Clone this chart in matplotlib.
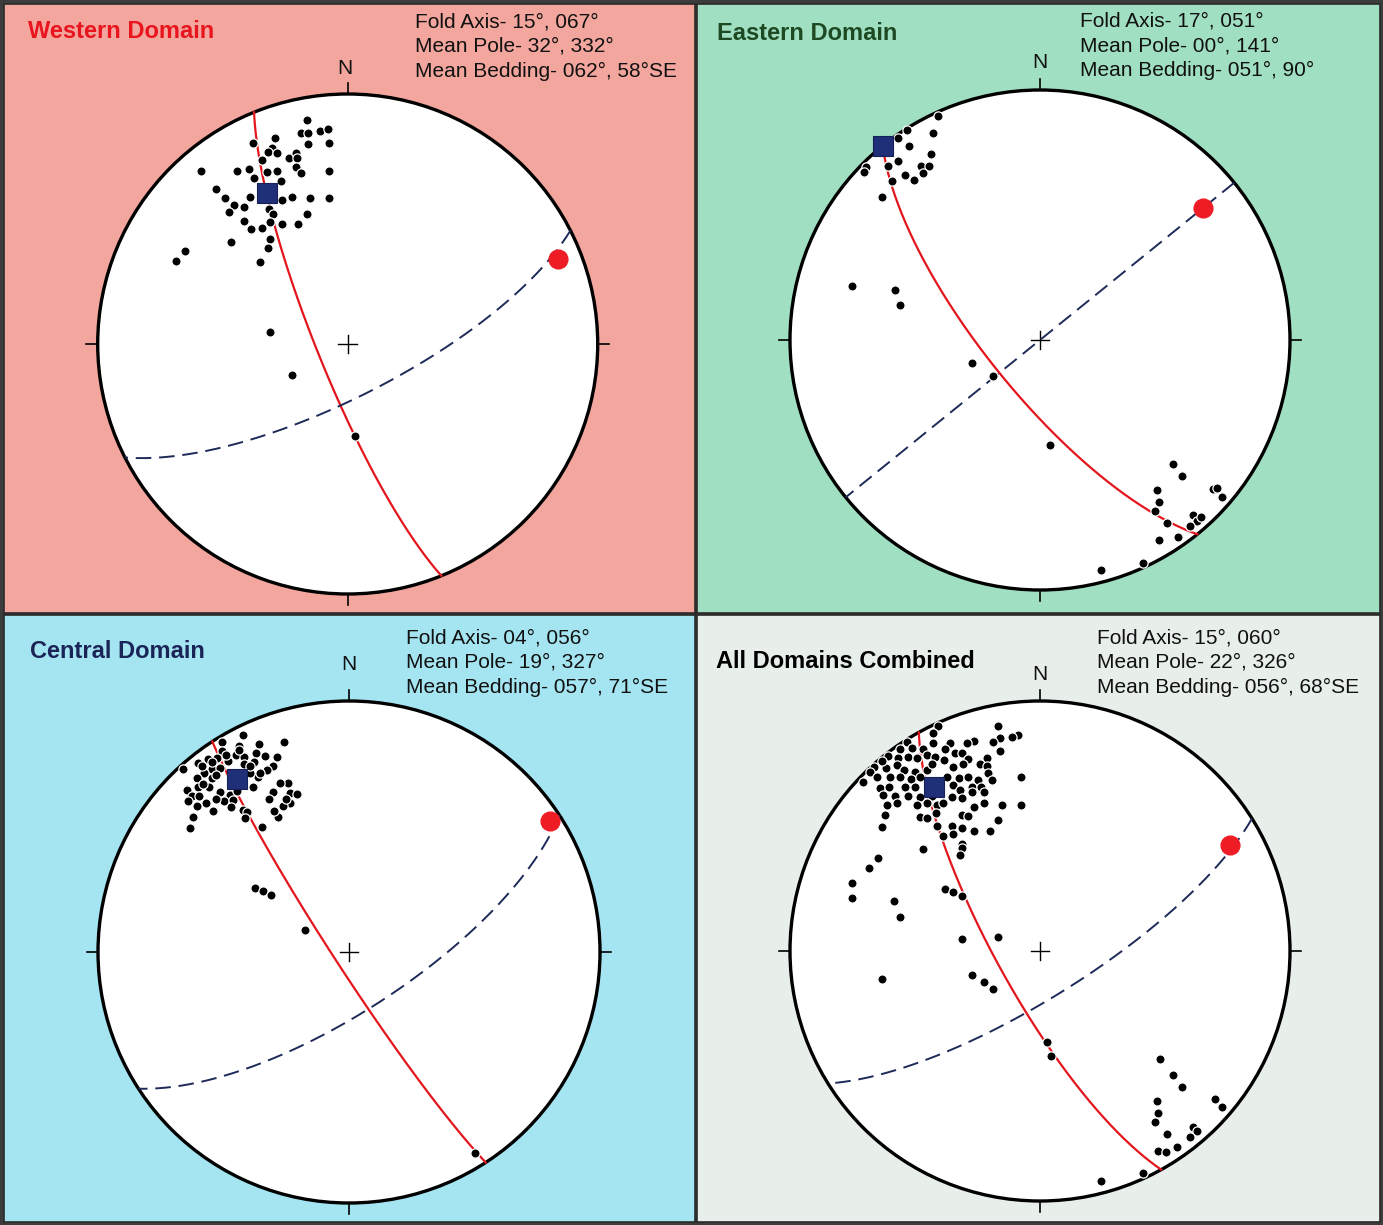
import matplotlib.pyplot as plt
import numpy as np

# poles to bedding (x east, y north, in units of the primitive radius)
west_poles = [
    (-0.164, 0.896), (-0.188, 0.843), (-0.157, 0.845), (-0.111, 0.853), (-0.080, 0.860),
    (-0.157, 0.800), (-0.073, 0.805), (-0.289, 0.825), (-0.379, 0.805), (-0.304, 0.783),
    (-0.317, 0.769), (-0.284, 0.763), (-0.233, 0.743), (-0.207, 0.763), (-0.204, 0.743),
    (-0.344, 0.736), (-0.587, 0.693), (-0.441, 0.693), (-0.393, 0.700), (-0.324, 0.689),
    (-0.281, 0.693), (-0.208, 0.709), (-0.187, 0.683), (-0.073, 0.693), (-0.373, 0.665),
    (-0.268, 0.653), (-0.525, 0.619), (-0.491, 0.585), (-0.455, 0.556), (-0.476, 0.528),
    (-0.415, 0.547), (-0.391, 0.589), (-0.261, 0.576), (-0.221, 0.589), (-0.152, 0.583),
    (-0.073, 0.585), (-0.316, 0.539), (-0.300, 0.520), (-0.164, 0.520), (-0.413, 0.493),
    (-0.387, 0.459), (-0.344, 0.465), (-0.309, 0.488), (-0.263, 0.479), (-0.200, 0.479),
    (-0.309, 0.421), (-0.468, 0.409), (-0.317, 0.383), (-0.649, 0.373), (-0.685, 0.332),
    (-0.352, 0.327), (-0.311, 0.049), (-0.221, -0.124), (0.031, -0.367),
]

east_poles = [
    (-0.407, 0.897), (-0.533, 0.840), (-0.429, 0.827), (-0.567, 0.807), (-0.524, 0.776),
    (-0.436, 0.743), (-0.567, 0.716), (-0.607, 0.696), (-0.477, 0.696), (-0.443, 0.696),
    (-0.696, 0.693), (-0.703, 0.673), (-0.540, 0.660), (-0.469, 0.667), (-0.504, 0.640),
    (-0.593, 0.637), (-0.633, 0.573), (-0.752, 0.216), (-0.580, 0.200), (-0.560, 0.140),
    (-0.272, -0.092), (-0.188, -0.144), (0.040, -0.420), (0.531, -0.496), (0.567, -0.544),
    (0.468, -0.600), (0.476, -0.648), (0.461, -0.684), (0.509, -0.733), (0.475, -0.801),
    (0.551, -0.787), (0.693, -0.597), (0.707, -0.593), (0.727, -0.627), (0.613, -0.700),
    (0.629, -0.723), (0.643, -0.709), (0.600, -0.744), (0.411, -0.893), (0.244, -0.920),
]

central_poles = [
    (-0.424, 0.865), (-0.507, 0.838), (-0.437, 0.821), (-0.357, 0.829), (-0.259, 0.838),
    (-0.507, 0.802), (-0.371, 0.792), (-0.335, 0.781), (-0.288, 0.776), (-0.450, 0.785),
    (-0.417, 0.778), (-0.563, 0.768), (-0.600, 0.754), (-0.527, 0.772), (-0.481, 0.762),
    (-0.417, 0.749), (-0.377, 0.758), (-0.302, 0.741), (-0.663, 0.728), (-0.547, 0.728),
    (-0.578, 0.714), (-0.514, 0.734), (-0.328, 0.725), (-0.604, 0.692), (-0.547, 0.692),
    (-0.361, 0.698), (-0.394, 0.712), (-0.242, 0.672), (-0.275, 0.672), (-0.600, 0.659),
    (-0.557, 0.659), (-0.384, 0.659), (-0.647, 0.645), (-0.514, 0.639), (-0.304, 0.639),
    (-0.235, 0.635), (-0.208, 0.629), (-0.627, 0.622), (-0.596, 0.622), (-0.474, 0.625),
    (-0.498, 0.602), (-0.461, 0.606), (-0.570, 0.592), (-0.604, 0.582), (-0.471, 0.576),
    (-0.235, 0.592), (-0.264, 0.582), (-0.421, 0.566), (-0.408, 0.559), (-0.620, 0.539),
    (-0.282, 0.539), (-0.414, 0.533), (-0.633, 0.493), (-0.348, 0.499), (-0.375, 0.255),
    (-0.343, 0.243), (-0.311, 0.227), (-0.175, 0.088), (0.502, -0.801),
    (-0.585, 0.740), (-0.545, 0.755), (-0.490, 0.785), (-0.440, 0.805), (-0.395, 0.740),
    (-0.355, 0.715), (-0.530, 0.705), (-0.580, 0.670), (-0.640, 0.600), (-0.530, 0.610),
    (-0.445, 0.640), (-0.320, 0.610), (-0.250, 0.610), (-0.300, 0.560), (-0.540, 0.560),
]

all_poles = [
    (-0.409, 0.900), (-0.167, 0.900), (-0.429, 0.871), (-0.087, 0.864), (-0.113, 0.857),
    (-0.160, 0.851), (-0.187, 0.837), (-0.533, 0.836), (-0.360, 0.833), (-0.429, 0.831),
    (-0.263, 0.841), (-0.293, 0.831), (-0.160, 0.800), (-0.560, 0.807), (-0.513, 0.811),
    (-0.467, 0.807), (-0.340, 0.791), (-0.380, 0.807), (-0.610, 0.780), (-0.453, 0.784),
    (-0.420, 0.777), (-0.383, 0.764), (-0.313, 0.791), (-0.287, 0.767), (-0.211, 0.771),
    (-0.240, 0.748), (-0.567, 0.771), (-0.527, 0.777), (-0.493, 0.771), (-0.663, 0.735),
    (-0.616, 0.731), (-0.573, 0.744), (-0.347, 0.737), (-0.309, 0.748), (-0.211, 0.740),
    (-0.633, 0.760), (-0.680, 0.717), (-0.544, 0.724), (-0.500, 0.717), (-0.453, 0.724),
    (-0.433, 0.748), (-0.207, 0.713), (-0.076, 0.697), (-0.707, 0.677), (-0.653, 0.695),
    (-0.600, 0.695), (-0.560, 0.695), (-0.517, 0.687), (-0.480, 0.695), (-0.373, 0.695),
    (-0.323, 0.691), (-0.287, 0.697), (-0.247, 0.684), (-0.191, 0.684), (-0.640, 0.651),
    (-0.603, 0.657), (-0.540, 0.657), (-0.499, 0.657), (-0.347, 0.664), (-0.320, 0.644),
    (-0.271, 0.657), (-0.236, 0.655), (-0.224, 0.637), (-0.629, 0.624), (-0.580, 0.620),
    (-0.527, 0.620), (-0.480, 0.615), (-0.433, 0.620), (-0.353, 0.615), (-0.313, 0.611),
    (-0.273, 0.637), (-0.611, 0.584), (-0.573, 0.591), (-0.491, 0.584), (-0.453, 0.591),
    (-0.413, 0.584), (-0.389, 0.591), (-0.264, 0.577), (-0.224, 0.591), (-0.153, 0.584),
    (-0.076, 0.584), (-0.620, 0.544), (-0.480, 0.537), (-0.453, 0.531), (-0.417, 0.551),
    (-0.313, 0.544), (-0.287, 0.540), (-0.167, 0.524), (-0.633, 0.497), (-0.413, 0.500),
    (-0.353, 0.500), (-0.313, 0.491), (-0.264, 0.481), (-0.200, 0.481), (-0.387, 0.460),
    (-0.347, 0.468), (-0.313, 0.428), (-0.313, 0.411), (-0.320, 0.384), (-0.469, 0.407),
    (-0.649, 0.373), (-0.683, 0.331), (-0.752, 0.271), (-0.752, 0.213), (-0.583, 0.201),
    (-0.560, 0.137), (-0.381, 0.249), (-0.347, 0.235), (-0.313, 0.221), (-0.313, 0.048),
    (-0.167, 0.057), (-0.633, -0.111), (-0.271, -0.096), (-0.223, -0.125), (-0.187, -0.152),
    (0.027, -0.365), (0.043, -0.420), (0.480, -0.432), (0.531, -0.496), (0.567, -0.543),
    (0.467, -0.599), (0.473, -0.647), (0.460, -0.683), (0.507, -0.732), (0.700, -0.593),
    (0.727, -0.625), (0.613, -0.703), (0.629, -0.719), (0.600, -0.743), (0.549, -0.785),
    (0.473, -0.800), (0.503, -0.805), (0.411, -0.889), (0.243, -0.919),
]

titles = ["Western Domain", "Eastern Domain", "Central Domain", "All Domains Combined"]
info_lines = [
    ["Fold Axis- 15°, 067°", "Mean Pole- 32°, 332°", "Mean Bedding- 062°, 58°SE"],
    ["Fold Axis- 17°, 051°", "Mean Pole- 00°, 141°", "Mean Bedding- 051°, 90°"],
    ["Fold Axis- 04°, 056°", "Mean Pole- 19°, 327°", "Mean Bedding- 057°, 71°SE"],
    ["Fold Axis- 15°, 060°", "Mean Pole- 22°, 326°", "Mean Bedding- 056°, 68°SE"],
]
# orientations as they sit on the nets (trend, plunge) / (strike, dip)
fold_axes = [(68, 10), (51, 17), (57, 5), (61, 14)]
mean_poles = [(332, 32), (321, 0), (327, 19), (327, 23)]
dashed_planes = [(63, 73), (51, 90), (57, 71), (58, 75)]
poles = [west_poles, east_poles, central_poles, all_poles]

title_colors = ["#e8141e", "#1d4a22", "#1b2456", "black"]
bg_colors = ["#f3a69d", "#a0dfc2", "#a5e5f2", "#e8eee9"]

# panel box (left, top, right, bottom), net centre and radius, in output pixels
W, H = 1383, 1225
panel_box = [(4, 4, 695, 613), (697, 4, 1380, 613), (4, 615, 695, 1222), (697, 615, 1380, 1222)]
net_centre = [(347.7, 344), (1040, 340), (349, 952), (1040, 951)]
net_radius = [250, 250, 251, 250]
title_xy = [(28, 31), (717, 33), (30, 652), (716, 661)]
info_xy = [(415, 22), (1080, 21), (406, 638), (1097, 638)]
info_step = 24.5
n_xy = [(345, 68), (1040, 63), (349, 665), (1040, 675)]


def project(trend, plunge):
    t = np.radians(trend)
    p = np.radians(plunge)
    r = np.sqrt(2) * np.sin((np.pi / 2 - p) / 2)
    return r * np.sin(t), r * np.cos(t)


def great_circle(strike, dip, n=300):
    s = np.radians(strike)
    d = np.radians(dip)
    a = np.linspace(0, np.pi, n)
    sv = np.array([np.sin(s), np.cos(s), 0.0])
    dv = np.array([np.cos(d) * np.sin(s + np.pi / 2), np.cos(d) * np.cos(s + np.pi / 2), np.sin(d)])
    v = np.outer(np.cos(a), sv) + np.outer(np.sin(a), dv)
    plunge = np.degrees(np.arcsin(np.clip(v[:, 2], 0, 1)))
    trend = np.degrees(np.arctan2(v[:, 0], v[:, 1]))
    return project(trend, plunge)


plt.rcParams["font.family"] = ["Liberation Sans", "DejaVu Sans"]

fig = plt.figure(figsize=(W / 100, H / 100), dpi=100)
fig.patch.set_facecolor("#3c3c3c")

for i in range(4):
    left, top, right, bottom = panel_box[i]
    cx, cy = net_centre[i]
    R = net_radius[i]
    ax = fig.add_axes([left / W, 1 - bottom / H, (right - left) / W, (bottom - top) / H])
    ax.set_xlim((left - cx) / R, (right - cx) / R)
    ax.set_ylim((cy - bottom) / R, (cy - top) / R)
    ax.set_facecolor(bg_colors[i])
    ax.set_xticks([])
    ax.set_yticks([])
    for sp in ax.spines.values():
        sp.set_color("#2b2b2b")
        sp.set_linewidth(1.2)

    def px(x, y):
        return (x - cx) / R, (cy - y) / R

    # primitive circle, ticks and centre cross
    ax.add_patch(plt.Circle((0, 0), 1, facecolor="white", edgecolor="black", lw=2.4, zorder=1))
    tick = 0.045
    for dx, dy in [(0, 1), (0, -1), (1, 0), (-1, 0)]:
        ax.plot([dx, dx * (1 + tick)], [dy, dy * (1 + tick)], color="black", lw=1.2, zorder=2)
    ax.plot([-0.037, 0.037], [0, 0], color="black", lw=1.0, zorder=2)
    ax.plot([0, 0], [-0.037, 0.037], color="black", lw=1.0, zorder=2)

    # girdle (pole = fold axis) and dashed plane
    ft, fp = fold_axes[i]
    gx, gy = great_circle(ft + 90, 90 - fp)
    ax.plot(gx, gy, color="#e3161d", lw=1.6, zorder=3)
    st, dp = dashed_planes[i]
    bx, by = great_circle(st, dp)
    ax.plot(bx, by, color="#1e2a58", lw=1.4, dashes=(8, 4), zorder=3)

    pts = np.array(poles[i])
    ax.scatter(pts[:, 0], pts[:, 1], s=44, color="black", edgecolors="white",
               linewidths=0.9, zorder=4)

    mx, my = project(*mean_poles[i])
    ax.plot(mx, my, marker="s", ms=14, color="#1f2f78", mec="#16215a", mew=0.8, zorder=5)
    rx, ry = project(*fold_axes[i])
    ax.plot(rx, ry, marker="o", ms=13.5, color="#ee1c25", mec="#ee1c25", zorder=5)

    tx, ty = px(*title_xy[i])
    ax.text(tx, ty, titles[i], color=title_colors[i], fontsize=17, fontweight="bold",
            ha="left", va="center")
    ix, iy = info_xy[i]
    for k, line in enumerate(info_lines[i]):
        lx, ly = px(ix, iy + k * info_step)
        ax.text(lx, ly, line, fontsize=15, ha="left", va="center", color="#111111")
    nx, ny = px(*n_xy[i])
    ax.text(nx, ny, "N", fontsize=15, ha="center", va="center", color="#111111")

fig.savefig("out.png", dpi=100, facecolor=fig.get_facecolor())
plt.close(fig)
